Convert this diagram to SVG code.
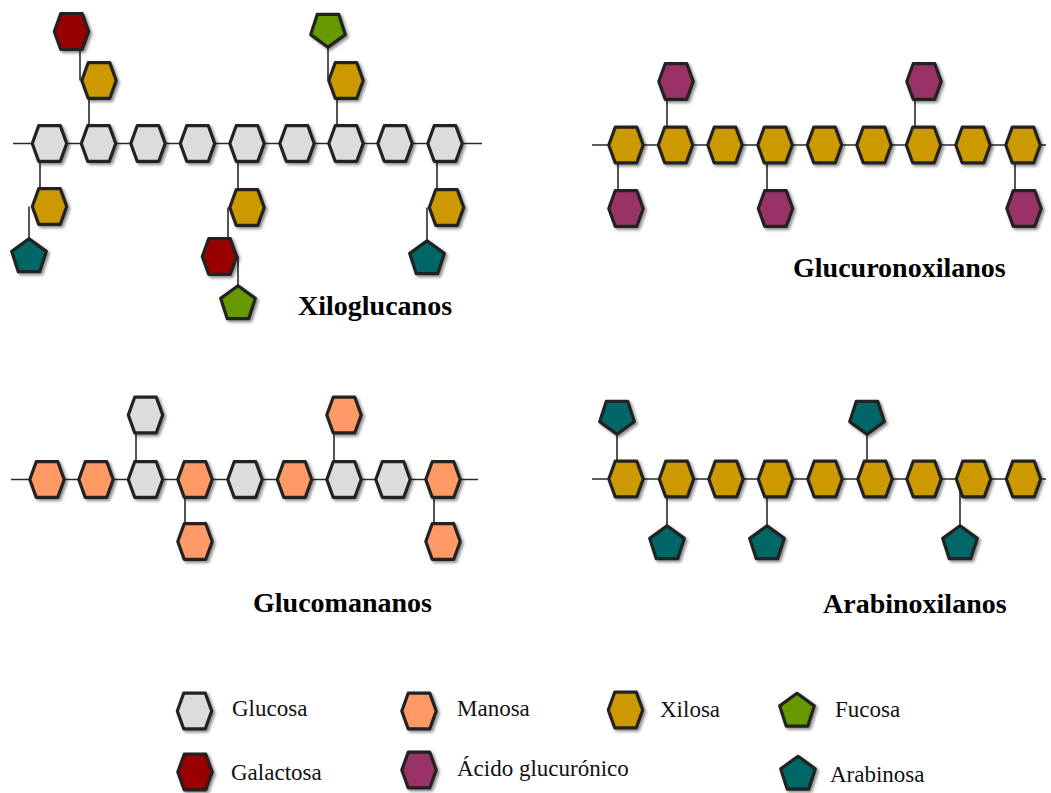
<svg xmlns="http://www.w3.org/2000/svg" xmlns:xlink="http://www.w3.org/1999/xlink" width="1051" height="793" viewBox="0 0 1051 793">
<style>
.n{stroke:#202020;stroke-width:3.2;stroke-linejoin:round;filter:url(#sh)}
.glc{fill:#dcdcdc}.man{fill:#ff9966}.xyl{fill:#cc9900}.fuc{fill:#669900}
.gal{fill:#990000}.gca{fill:#993366}.ara{fill:#006666}
.c{stroke:#2a2a2a;stroke-width:1.6;fill:none}
.t{font-family:"Liberation Serif","Times New Roman",serif;font-weight:bold;font-size:28px;fill:#000}
.l{font-family:"Liberation Serif","Times New Roman",serif;font-size:23px;fill:#111}
</style>
<defs>
<filter id="sh" x="-30%" y="-30%" width="160%" height="160%">
<feDropShadow dx="2" dy="2" stdDeviation="1.5" flood-color="#000" flood-opacity="0.45"/>
</filter>
<path id="hex" d="M-17.2,0 L-10.8,-17.8 L10.8,-17.8 L17.2,0 L10.8,17.8 L-10.8,17.8 Z"/>
<path id="pu" d="M0,-18.2 L17.31,-5.62 L10.7,14.72 L-10.7,14.72 L-17.31,-5.62 Z"/>
<path id="pd" d="M0,18.2 L17.31,5.62 L10.7,-14.72 L-10.7,-14.72 L-17.31,5.62 Z"/>
</defs>
<rect width="1051" height="793" fill="#fff"/>

<g id="connectors">
<path class="c" d="M13,143.5H482 M40,143.5V206.5 M29,206.5V257 M89,143.5V80.5 M80,80.5V31.5 M238,143.5V207.5 M228,207.5V256.5 M238,256.5V304 M337,143.5V80.5 M328,80.5V29 M437,143.5V207.5 M427,207.5V259"/>
<path class="c" d="M592,145H1046 M618,145V208.5 M667,145V81.5 M767,145V208.5 M915,145V81.5 M1015,145V208.5"/>
<path class="c" d="M11,479.5H478 M136,479.5V415 M185,479.5V541.5 M334,479.5V415 M434,479.5V541.5"/>
<path class="c" d="M592,479H1046 M617,479V416 M667,479V544 M767,479V544 M867,479V416 M960,479V544"/>
</g>

<!-- Xiloglucanos -->
<g id="xg-b1"><use href="#hex" x="49.5" y="143.5" class="n glc"/></g>
<g id="xg-b2"><use href="#hex" x="98.5" y="143.5" class="n glc"/></g>
<g id="xg-b3"><use href="#hex" x="148" y="143.5" class="n glc"/></g>
<g id="xg-b4"><use href="#hex" x="197.5" y="143.5" class="n glc"/></g>
<g id="xg-b5"><use href="#hex" x="247" y="143.5" class="n glc"/></g>
<g id="xg-b6"><use href="#hex" x="297" y="143.5" class="n glc"/></g>
<g id="xg-b7"><use href="#hex" x="346" y="143.5" class="n glc"/></g>
<g id="xg-b8"><use href="#hex" x="395" y="143.5" class="n glc"/></g>
<g id="xg-b9"><use href="#hex" x="445" y="143.5" class="n glc"/></g>
<g id="xg-x1"><use href="#hex" x="49.5" y="206.5" class="n xyl"/></g>
<g id="xg-a1"><use href="#pu" x="29" y="257" class="n ara"/></g>
<g id="xg-x2"><use href="#hex" x="99" y="80.5" class="n xyl"/></g>
<g id="xg-g2"><use href="#hex" x="71.5" y="31.5" class="n gal"/></g>
<g id="xg-x5"><use href="#hex" x="247" y="207.5" class="n xyl"/></g>
<g id="xg-g5"><use href="#hex" x="219.5" y="256.5" class="n gal"/></g>
<g id="xg-f5"><use href="#pu" x="238" y="304" class="n fuc"/></g>
<g id="xg-x7"><use href="#hex" x="346" y="80.5" class="n xyl"/></g>
<g id="xg-f7"><use href="#pd" x="328" y="29" class="n fuc"/></g>
<g id="xg-x9"><use href="#hex" x="446.5" y="207.5" class="n xyl"/></g>
<g id="xg-a9"><use href="#pu" x="427" y="259" class="n ara"/></g>
<text class="t" x="298" y="315">Xiloglucanos</text>

<!-- Glucuronoxilanos -->
<g id="gx-b1"><use href="#hex" x="626" y="145" class="n xyl"/></g>
<g id="gx-b2"><use href="#hex" x="675.5" y="145" class="n xyl"/></g>
<g id="gx-b3"><use href="#hex" x="725" y="145" class="n xyl"/></g>
<g id="gx-b4"><use href="#hex" x="775" y="145" class="n xyl"/></g>
<g id="gx-b5"><use href="#hex" x="824.5" y="145" class="n xyl"/></g>
<g id="gx-b6"><use href="#hex" x="874" y="145" class="n xyl"/></g>
<g id="gx-b7"><use href="#hex" x="923.5" y="145" class="n xyl"/></g>
<g id="gx-b8"><use href="#hex" x="973" y="145" class="n xyl"/></g>
<g id="gx-b9"><use href="#hex" x="1023" y="145" class="n xyl"/></g>
<g id="gx-u1"><use href="#hex" x="626" y="208.5" class="n gca"/></g>
<g id="gx-u2"><use href="#hex" x="676" y="81.5" class="n gca"/></g>
<g id="gx-u4"><use href="#hex" x="775.5" y="208.5" class="n gca"/></g>
<g id="gx-u7"><use href="#hex" x="924" y="81.5" class="n gca"/></g>
<g id="gx-u9"><use href="#hex" x="1024" y="208.5" class="n gca"/></g>
<text class="t" x="793" y="277">Glucuronoxilanos</text>

<!-- Glucomananos -->
<g id="gm-b1"><use href="#hex" x="47" y="479.5" class="n man"/></g>
<g id="gm-b2"><use href="#hex" x="96" y="479.5" class="n man"/></g>
<g id="gm-b3"><use href="#hex" x="145.5" y="479.5" class="n glc"/></g>
<g id="gm-b4"><use href="#hex" x="195" y="479.5" class="n man"/></g>
<g id="gm-b5"><use href="#hex" x="245" y="479.5" class="n glc"/></g>
<g id="gm-b6"><use href="#hex" x="294.5" y="479.5" class="n man"/></g>
<g id="gm-b7"><use href="#hex" x="344" y="479.5" class="n glc"/></g>
<g id="gm-b8"><use href="#hex" x="393" y="479.5" class="n glc"/></g>
<g id="gm-b9"><use href="#hex" x="443" y="479.5" class="n man"/></g>
<g id="gm-s3"><use href="#hex" x="145.5" y="415" class="n glc"/></g>
<g id="gm-s4"><use href="#hex" x="195" y="541.5" class="n man"/></g>
<g id="gm-s7"><use href="#hex" x="344" y="415" class="n man"/></g>
<g id="gm-s9"><use href="#hex" x="443" y="541.5" class="n man"/></g>
<text class="t" x="253" y="612">Glucomananos</text>

<!-- Arabinoxilanos -->
<g id="ax-b1"><use href="#hex" x="626" y="479" class="n xyl"/></g>
<g id="ax-b2"><use href="#hex" x="676.5" y="479" class="n xyl"/></g>
<g id="ax-b3"><use href="#hex" x="726" y="479" class="n xyl"/></g>
<g id="ax-b4"><use href="#hex" x="775.5" y="479" class="n xyl"/></g>
<g id="ax-b5"><use href="#hex" x="825" y="479" class="n xyl"/></g>
<g id="ax-b6"><use href="#hex" x="875" y="479" class="n xyl"/></g>
<g id="ax-b7"><use href="#hex" x="924" y="479" class="n xyl"/></g>
<g id="ax-b8"><use href="#hex" x="973.5" y="479" class="n xyl"/></g>
<g id="ax-b9"><use href="#hex" x="1023.5" y="479" class="n xyl"/></g>
<g id="ax-a1"><use href="#pd" x="617" y="416" class="n ara"/></g>
<g id="ax-a2"><use href="#pu" x="667" y="544" class="n ara"/></g>
<g id="ax-a4"><use href="#pu" x="767" y="544" class="n ara"/></g>
<g id="ax-a6"><use href="#pd" x="867" y="416" class="n ara"/></g>
<g id="ax-a8"><use href="#pu" x="960" y="544" class="n ara"/></g>
<text class="t" x="823" y="613">Arabinoxilanos</text>

<!-- Legend -->
<g id="lg-glc"><use href="#hex" x="194.5" y="711" class="n glc"/><text class="l" x="232" y="716">Glucosa</text></g>
<g id="lg-man"><use href="#hex" x="419" y="711" class="n man"/><text class="l" x="457" y="716">Manosa</text></g>
<g id="lg-xyl"><use href="#hex" x="625.5" y="710" class="n xyl"/><text class="l" x="660" y="717">Xilosa</text></g>
<g id="lg-fuc"><use href="#pu" x="797" y="711.5" class="n fuc"/><text class="l" x="835" y="717">Fucosa</text></g>
<g id="lg-gal"><use href="#hex" x="195" y="772" class="n gal"/><text class="l" x="231" y="780">Galactosa</text></g>
<g id="lg-gca"><use href="#hex" x="419" y="770" class="n gca"/><text class="l" x="457" y="776">Ácido glucurónico</text></g>
<g id="lg-ara"><use href="#pu" x="798" y="774.5" class="n ara"/><text class="l" x="830" y="782">Arabinosa</text></g>
</svg>
